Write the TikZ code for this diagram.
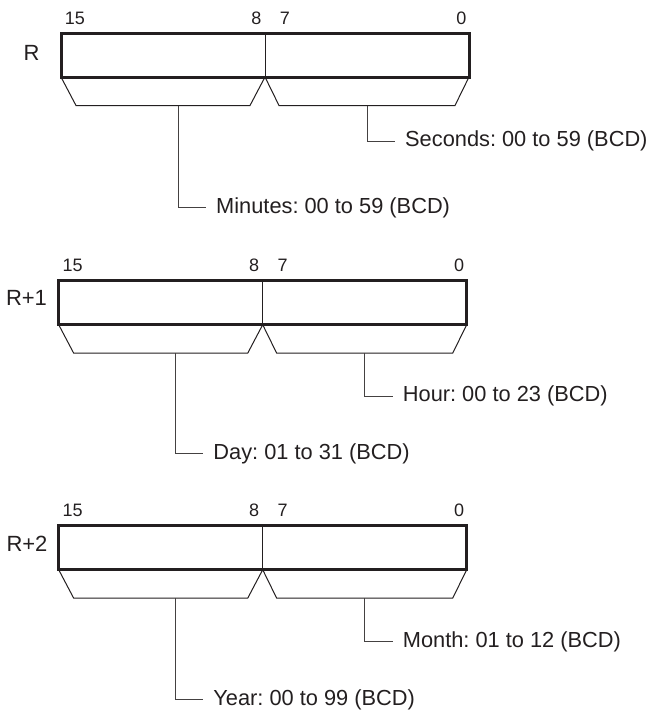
\documentclass[tikz,border=0pt]{standalone}
\usepackage{fontspec}
\setmainfont{Liberation Sans}
\usetikzlibrary{calc}
\definecolor{ink}{HTML}{231F20}
\tikzset{
  regbox/.style={draw=ink, line width=3pt, minimum width=408pt, minimum height=44pt, inner sep=0pt, outer sep=0pt, anchor=north west},
  divline/.style={draw=ink, line width=1pt},
  brk/.style={draw=ink, line width=1pt},
  conn/.style={draw=ink!85, line width=1pt, shorten >=10pt},
  desc/.style={font=\fontsize{21.8}{24}\selectfont, text=ink, inner sep=0pt, anchor=west},
  bitnum/.style={font=\fontsize{18}{20}\selectfont, text=ink, inner sep=0pt},
  reglbl/.style={font=\fontsize{22}{24}\selectfont, text=ink, inner sep=0pt},
}
% #1 prefix, #2 left x, #3 top y, #4 right text, #5 right drop, #6 left text, #7 left drop, #8 left connector offset
\newcommand\regrow[8]{%
  \node[regbox] (#1box) at (#2,#3) {};
  \draw[divline] (#1box.north) -- (#1box.south);
  \draw[brk] (#1box.south west) -- ++(15,28.5) -- ($(#1box.south)+(-15,28.5)$) -- (#1box.south)
     -- ++(14,28.5) -- ($(#1box.south east)+(-14,28.5)$) -- (#1box.south east);
  \coordinate (#1ls) at ($(#1box.south west)+(#8,28.5)$);
  \coordinate (#1rs) at ($(#1box.south)+(102,28.5)$);
  \node[desc] (#1rt) at ($(#1rs)+(38,#5)$) {#4};
  \node[desc] (#1lt) at ($(#1ls)+(38,#7)$) {#6};
  \draw[conn] (#1rs) |- (#1rt.west);
  \draw[conn] (#1ls) |- (#1lt.west);
  \node[bitnum] (#1bA) at ($(#1box.north west)+(14,-15)$) {15};
  \node[bitnum] (#1bB) at ($(#1box.north)+(-8.5,-15)$) {8};
  \node[bitnum] (#1bC) at ($(#1box.north)+(20,-15)$) {7};
  \node[bitnum] (#1bD) at ($(#1box.north east)+(-7.5,-15)$) {0};
}
\begin{document}
\frenchspacing
\begin{tikzpicture}[x=1pt, y=-1pt]
  \useasboundingbox (0,0) rectangle (653,713);
  \regrow{a}{61}{33}{Seconds: 00 to 59 (BCD)}{35.7}{Minutes: 00 to 59 (BCD)}{102}{117}
  \regrow{b}{58.7}{280.7}{Hour: 00 to 23 (BCD)}{43}{Day: 01 to 31 (BCD)}{100.6}{116.5}
  \regrow{c}{58.7}{525.7}{Month: 01 to 12 (BCD)}{43.4}{Year: 00 to 99 (BCD)}{101.7}{116.5}
  \node[reglbl] (areg) at (31.5,53) {R};
  \node[reglbl] (breg) at (26.5,298) {R+1};
  \node[reglbl] (creg) at (27,544) {R+2};
\end{tikzpicture}
\end{document}
